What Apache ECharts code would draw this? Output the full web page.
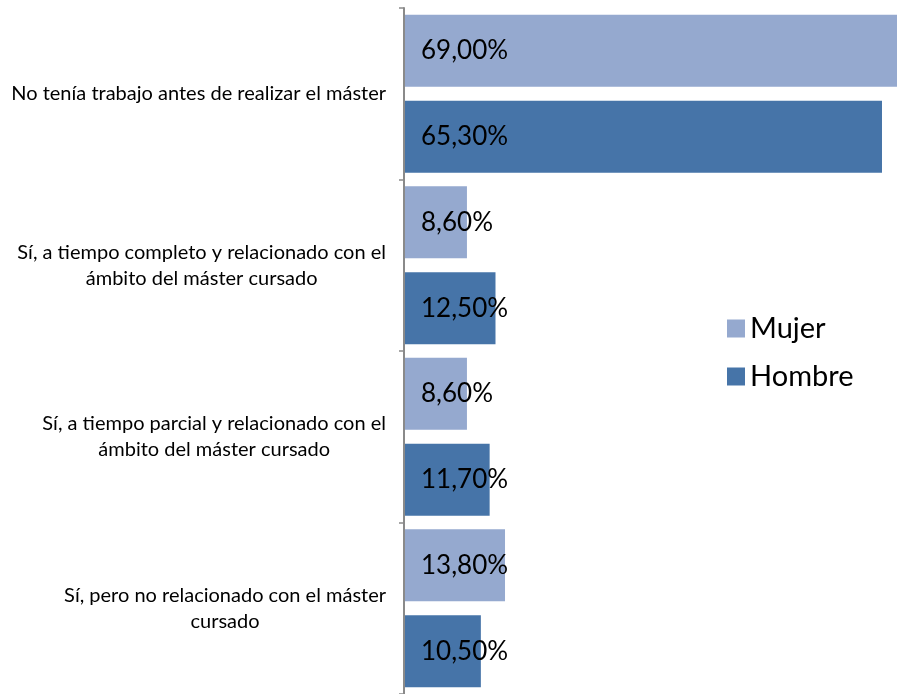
<!DOCTYPE html>
<html>
<head>
<meta charset="utf-8">
<script src="https://cdn.jsdelivr.net/npm/echarts@6/dist/echarts.min.js"></script>
<style>
  html, body { margin: 0; padding: 0; background: #fff; }
  #chart { width: 897px; height: 694px; }
</style>
</head>
<body>
<div id="chart"></div>
<script>
// categorías (de arriba abajo)
const categories = [
  "No tenía trabajo antes de realizar el máster",
  "Sí, a tiempo completo y relacionado con el\námbito del máster cursado",
  "Sí, a tiempo parcial y relacionado con el\námbito del máster cursado",
  "Sí, pero no relacionado con el máster\ncursado"
];
const seriesNames = ["Mujer", "Hombre"];
const mujer = [69.0, 8.6, 8.6, 13.8];
const hombre = [65.3, 12.5, 11.7, 10.5];

const FONT = "Lato";
const fmtPct = (v) => v.toFixed(2).replace(".", ",") + "%";

const myChart = echarts.init(document.getElementById("chart"));

const valueLabel = {
  show: true,
  position: "insideLeft",
  distance: 17,
  color: "#000",
  fontFamily: FONT,
  fontSize: 26,
  formatter: (p) => fmtPct(p.value),
};

const option = {
  animation: false,
  legend: {
    orient: "vertical",
    left: 722,
    top: 309,
    itemWidth: 18,
    itemHeight: 18,
    itemGap: 19,
    icon: "rect",
    textStyle: { color: "#000", fontFamily: FONT, fontSize: 29, padding: [0, 0, 0, 0] },
    data: seriesNames,
  },
  grid: {
    left: 404,
    right: 0,
    top: 8,
    bottom: -4,
    containLabel: false,
  },
  // x: sin etiquetas, la barra de 69% se corta en el borde
  xAxis: {
    type: "value",
    min: 0,
    max: 67.35,
    show: false,
  },
  yAxis: {
    type: "category",
    data: categories,
    inverse: true,
    z: 3,
    axisLine: { show: true, lineStyle: { color: "#8a8a8a", width: 2 } },
    axisTick: { show: true, length: 5, lineStyle: { color: "#8a8a8a", width: 1.5 } },
    axisLabel: {
      margin: 18,
      formatter: (v) => v.split("\n").map((s) => "{c|" + s + "}").join("\n"),
      rich: {
        c: {
          align: "center",
          color: "#000",
          fontFamily: FONT,
          fontSize: 20,
          lineHeight: 26,
        },
      },
    },
  },
  series: [
    {
      name: seriesNames[0],
      type: "bar",
      data: mujer,
      barWidth: 72,
      barGap: "19.4%",
      itemStyle: { color: "#95a9cf" },
      label: valueLabel,
    },
    {
      name: seriesNames[1],
      type: "bar",
      data: hombre,
      barWidth: 72,
      barGap: "19.4%",
      itemStyle: { color: "#4674a8" },
      label: valueLabel,
    },
  ],
};
myChart.setOption(option);
</script>
</body>
</html>
